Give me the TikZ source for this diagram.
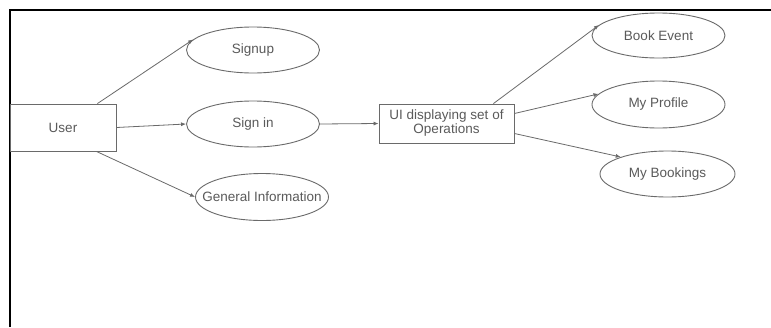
\documentclass[tikz,border=0pt]{standalone}
\usepackage{fontspec}
\setmainfont{Liberation Sans}
\usetikzlibrary{shapes.geometric,arrows.meta}
\definecolor{linegray}{HTML}{6A6A6A}
\definecolor{textgray}{HTML}{5A5A5A}
\tikzset{
  box/.style={draw=linegray, line width=0.9pt, rectangle, inner sep=1pt, align=center, text=textgray, font=\fontsize{13.5}{14}\selectfont},
  oval/.style={draw=linegray, line width=0.9pt, ellipse, inner sep=0pt, minimum width=133pt, minimum height=46pt, text=textgray, font=\fontsize{13.5}{14}\selectfont},
  conn/.style={draw=linegray, line width=0.8pt, -{Latex[length=5pt,width=4pt]}},
}
\begin{document}
\begin{tikzpicture}[x=1pt,y=-1pt]
\useasboundingbox (0,0) rectangle (771,327);
\fill[white] (0,0) rectangle (771,327);
\draw[black, line width=1.6pt] (10,327) -- (10,10) -- (771,10);

\node[box, minimum width=106pt, minimum height=47pt] (user) at (63,127.5) {User};
\node[oval] (signup) at (253,50) {Signup};
\node[oval] (signin) at (253,124) {Sign in};
\node[oval, minimum height=47pt, inner xsep=-13pt] (gen) at (262,197) {General Information};
\node[box, minimum width=135pt, minimum height=39pt] (ui) at (446.5,123.5) {UI displaying set of\\Operations};
\node[oval, minimum height=45pt] (book) at (658.5,35.5) {Book Event};
\node[oval, minimum height=47pt] (profile) at (658.5,104.5) {My Profile};
\node[oval, minimum width=135pt] (bookings) at (667.5,174) {My Bookings};

\draw[conn] ([xshift=-19pt]user.north east) -- (signup.170);
\draw[conn] (user.east) -- (signin.west);
\draw[conn] ([xshift=-20pt]user.south east) -- (gen.west);
\draw[conn] (signin.east) -- (ui.west);
\draw[conn] ([xshift=-21pt]ui.north east) -- (book.170);
\draw[conn] ([yshift=10pt]ui.east) -- (profile.170);
\draw[conn] ([yshift=-10pt]ui.east) -- (bookings.160);
\end{tikzpicture}
\end{document}
